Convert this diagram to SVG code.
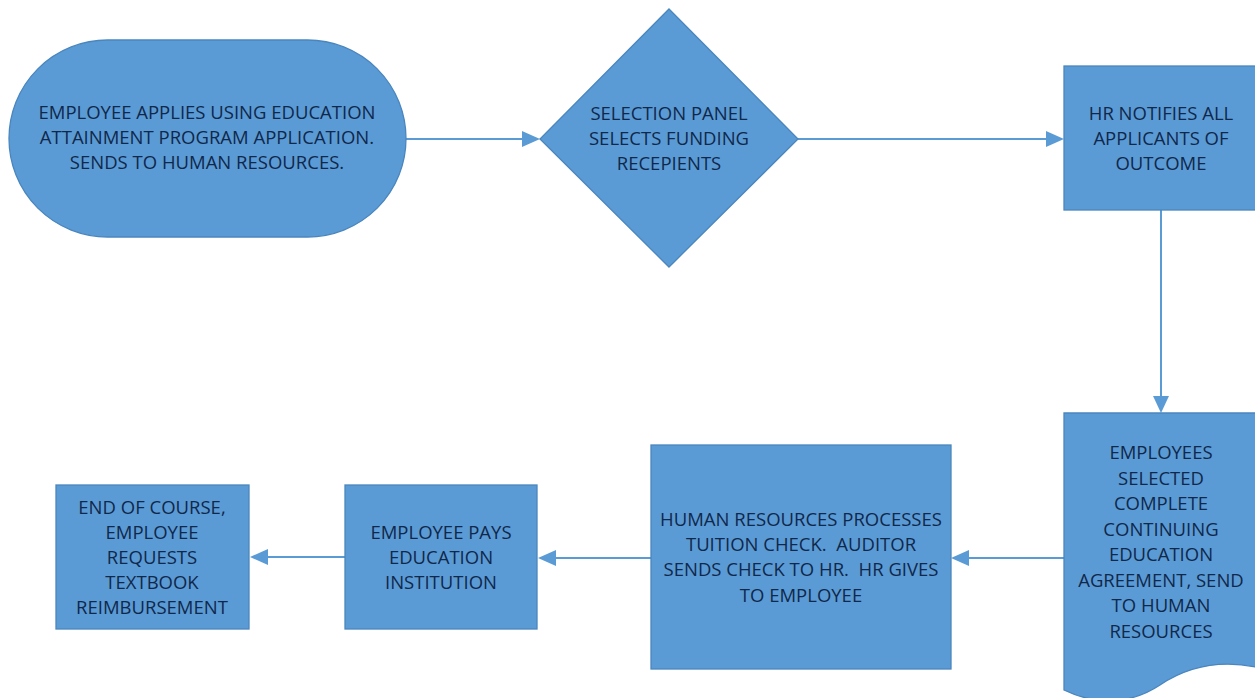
<svg xmlns="http://www.w3.org/2000/svg" width="1255" height="698" viewBox="0 0 1255 698">
<style>
.shape{fill:#5B9BD5;stroke:#4A86BE;stroke-width:1.3}
.lbl{font-family:"Open Sans","Liberation Sans",sans-serif;font-size:18.5px;fill:#10284B;text-anchor:middle;white-space:pre}
.conn{stroke:#5B9BD5;stroke-width:2;fill:none}
.head{fill:#5B9BD5}
</style>
<rect width="1255" height="698" fill="#FFFFFF"/>
<g id="connectors">
<path class="conn" d="M406,139 H524"/>
<path class="head" d="M522,131 L540,139 L522,147 Z"/>
<path class="conn" d="M798,139 H1048"/>
<path class="head" d="M1046,131 L1064,139 L1046,147 Z"/>
<path class="conn" d="M1161,210 V398"/>
<path class="head" d="M1153,396 L1161,413 L1169,396 Z"/>
<path class="conn" d="M1064,558 H966"/>
<path class="head" d="M969,550 L951,558 L969,566 Z"/>
<path class="conn" d="M651,558 H552"/>
<path class="head" d="M556,550 L538,558 L556,566 Z"/>
<path class="conn" d="M345,557 H265"/>
<path class="head" d="M268,549 L250,557 L268,565 Z"/>
</g>
<g id="n1">
<rect class="shape" x="9" y="40" width="397" height="197" rx="98.5" ry="98.5"/>
<text class="lbl" x="207" y="119">EMPLOYEE APPLIES USING EDUCATION</text>
<text class="lbl" x="207" y="144">ATTAINMENT PROGRAM APPLICATION.</text>
<text class="lbl" x="207" y="169">SENDS TO HUMAN RESOURCES.</text>
</g>
<g id="n2">
<path class="shape" d="M669,9 L798,139 L669,267 L540,139 Z"/>
<text class="lbl" x="669" y="120">SELECTION PANEL</text>
<text class="lbl" x="669" y="145">SELECTS FUNDING</text>
<text class="lbl" x="669" y="170">RECEPIENTS</text>
</g>
<g id="n3">
<rect class="shape" x="1064" y="66" width="196" height="144"/>
<text class="lbl" x="1161" y="120">HR NOTIFIES ALL</text>
<text class="lbl" x="1161" y="145">APPLICANTS OF</text>
<text class="lbl" x="1161" y="170">OUTCOME</text>
</g>
<g id="n4">
<path class="shape" d="M1064,413 H1260 V668 C1225,660 1190,665 1160,685 C1130,705 1095,705 1064,690 Z"/>
<text class="lbl" x="1161" y="459">EMPLOYEES</text>
<text class="lbl" x="1161" y="484.5">SELECTED</text>
<text class="lbl" x="1161" y="510">COMPLETE</text>
<text class="lbl" x="1161" y="535.5">CONTINUING</text>
<text class="lbl" x="1161" y="561">EDUCATION</text>
<text class="lbl" x="1161" y="586.5">AGREEMENT, SEND</text>
<text class="lbl" x="1161" y="612">TO HUMAN</text>
<text class="lbl" x="1161" y="637.5">RESOURCES</text>
</g>
<g id="n5">
<rect class="shape" x="651" y="445" width="300" height="224"/>
<text class="lbl" x="801" y="526">HUMAN RESOURCES PROCESSES</text>
<text class="lbl" x="801" y="551">TUITION CHECK.  AUDITOR</text>
<text class="lbl" x="801" y="576">SENDS CHECK TO HR.  HR GIVES</text>
<text class="lbl" x="801" y="602">TO EMPLOYEE</text>
</g>
<g id="n6">
<rect class="shape" x="345" y="485" width="192" height="144"/>
<text class="lbl" x="441" y="539">EMPLOYEE PAYS</text>
<text class="lbl" x="441" y="564">EDUCATION</text>
<text class="lbl" x="441" y="589">INSTITUTION</text>
</g>
<g id="n7">
<rect class="shape" x="56" y="485" width="193" height="144"/>
<text class="lbl" x="152" y="514">END OF COURSE,</text>
<text class="lbl" x="152" y="539">EMPLOYEE</text>
<text class="lbl" x="152" y="564">REQUESTS</text>
<text class="lbl" x="152" y="589">TEXTBOOK</text>
<text class="lbl" x="152" y="614">REIMBURSEMENT</text>
</g>
</svg>
